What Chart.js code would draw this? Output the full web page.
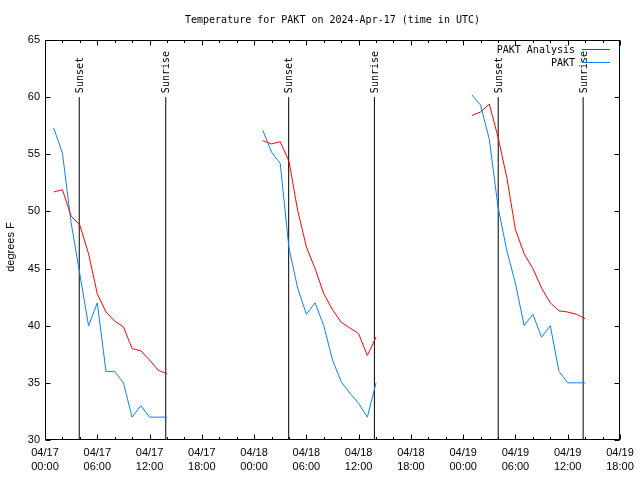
<!DOCTYPE html>
<html><head><meta charset="utf-8">
<script src="https://cdn.jsdelivr.net/npm/chart.js@4"></script>
<style>html,body{margin:0;padding:0;background:#fff}</style>
</head><body>
<canvas id="c" width="640" height="480"></canvas>
<script>
// hours since 2024-04-17 00:00 UTC; null values break the lines between days
const hours = [1,2,3,4,5,6,7,8,9,10,11,12,13,14,15,
  25,26,27,28,29,30,31,32,33,34,35,36,37,38,39,
  49,50,51,52,53,54,55,56,57,58,59,60,61,62];
const analysisTemps = [51.7,51.9,49.6,48.8,46.3,42.8,41.2,40.4,39.9,38.0,37.8,37.0,36.1,35.8,null,
  56.2,55.9,56.1,54.4,50.1,46.9,45.0,42.8,41.4,40.3,39.8,39.3,37.4,39.0,null,
  58.4,58.7,59.4,56.5,53.0,48.4,46.3,45.0,43.3,42.0,41.3,41.2,41.0,40.6];
const observedTemps = [57.3,55.1,49.0,44.5,40.0,42.0,36.0,36.0,35.0,32.0,33.0,32.0,32.0,32.0,null,
  57.1,55.2,54.2,46.8,43.3,41.0,42.0,40.0,37.0,35.1,34.1,33.2,32.0,35.0,null,
  60.2,59.3,56.3,50.4,46.6,43.7,40.0,41.0,39.0,40.0,36.0,35.0,35.0,35.0];
const seriesNames = ['PAKT Analysis','PAKT'];
const sunsetHours = [3.93, 27.97, 52.02];
const sunriseHours = [13.86, 37.81, 61.77];
const sunLineRange = [30, 60];
const xTickDates = ['04/17','04/17','04/17','04/17','04/18','04/18','04/18','04/18','04/19','04/19','04/19','04/19'];
const xTickTimes = ['00:00','06:00','12:00','18:00','00:00','06:00','12:00','18:00','00:00','06:00','12:00','18:00'];
const yTicks = [30,35,40,45,50,55,60,65];
const titleText = 'Temperature for PAKT on 2024-Apr-17 (time in UTC)';
const yLabel = 'degrees F';

const pts = (vals) => hours.map((h,i) => ({x:h, y:vals[i]}));
const vline = (t) => sunLineRange.map(v => ({x:t, y:v}));

const sunMarks = [];
sunsetHours.forEach(t => sunMarks.push({t, label:'Sunset'}));
sunriseHours.forEach(t => sunMarks.push({t, label:'Sunrise'}));

const datasets = [
  {label:seriesNames[0], data:pts(analysisTemps), borderColor:'#ff0000', borderWidth:1, pointRadius:0, spanGaps:false, tension:0},
  {label:seriesNames[1], data:pts(observedTemps), borderColor:'#0a80ff', borderWidth:1, pointRadius:0, spanGaps:false, tension:0}
];
sunMarks.forEach(m => datasets.push({label:m.label, data:vline(m.t), borderColor:'#000', borderWidth:1, pointRadius:0}));

const decor = {
  id:'decor',
  afterDatasetsDraw(chart){
    const ctx = chart.ctx, a = chart.chartArea, xs = chart.scales.x, ys = chart.scales.y;
    ctx.save();
    ctx.strokeStyle = '#000'; ctx.lineWidth = 1;
    const L = Math.round(a.left)+0.5, R = Math.round(a.right)-0.5, T = Math.round(a.top)+0.5, B = Math.round(a.bottom)-0.5;
    ctx.strokeRect(L, T, R-L, B-T);
    ctx.beginPath();
    yTicks.forEach(v => {
      const y = Math.round(ys.getPixelForValue(v))+0.5;
      ctx.moveTo(L, y); ctx.lineTo(L+5, y);
      ctx.moveTo(R, y); ctx.lineTo(R-5, y);
    });
    for (let h = xs.min; h <= xs.max; h += 2) {
      const x = Math.round(xs.getPixelForValue(h))+0.5;
      const len = (h % 6 === 0) ? 5 : 2.5;
      ctx.moveTo(x, B); ctx.lineTo(x, B-len);
      ctx.moveTo(x, T); ctx.lineTo(x, T+len);
    }
    ctx.stroke();
    // sun labels
    ctx.fillStyle = '#000';
    ctx.font = '10px "DejaVu Sans Mono"';
    ctx.textAlign = 'left'; ctx.textBaseline = 'middle';
    const yTop = ys.getPixelForValue(sunLineRange[1]);
    sunMarks.forEach(m => {
      const x = xs.getPixelForValue(m.t);
      ctx.save(); ctx.translate(x+1, yTop-4); ctx.rotate(-Math.PI/2);
      ctx.fillText(m.label, 0, 0); ctx.restore();
    });
    // legend
    ctx.textAlign = 'right';
    const legY = [50, 63];
    [0,1].forEach(i => {
      ctx.fillStyle = '#000';
      ctx.fillText(chart.data.datasets[i].label, 575, legY[i]);
      ctx.strokeStyle = chart.data.datasets[i].borderColor;
      ctx.beginPath(); ctx.moveTo(582, legY[i]-0.5); ctx.lineTo(610, legY[i]-0.5); ctx.stroke();
    });
    // y axis title
    ctx.fillStyle = '#000';
    ctx.font = '11px "Liberation Sans"';
    ctx.textAlign = 'center';
    ctx.save(); ctx.translate(11, 247); ctx.rotate(-Math.PI/2);
    ctx.fillText(yLabel, 0, 0); ctx.restore();
    ctx.restore();
  }
};

new Chart(document.getElementById('c'), {
  type:'line',
  data:{datasets},
  options:{
    responsive:false, animation:false,
    layout:{padding:{top:0,right:20,bottom:0,left:0}},
    plugins:{
      legend:{display:false}, tooltip:{enabled:false},
      title:{display:true, fullSize:false, text:titleText, color:'#000', font:{family:'"DejaVu Sans Mono"', size:10, weight:'normal'}, padding:{top:14,bottom:14}}
    },
    scales:{
      x:{type:'linear', min:0, max:66,
        grid:{display:false, drawTicks:false}, border:{display:false},
        afterFit(s){ s.height = 40; },
        ticks:{stepSize:6, autoSkip:false, maxRotation:0, padding:6, color:'#000',
          font:{family:'"Liberation Sans"', size:11, lineHeight:1.27},
          callback:(v) => { const i = Math.round(v/6); return [xTickDates[i], xTickTimes[i]]; }}
      },
      y:{type:'linear', min:30, max:65,
        grid:{display:false, drawTicks:false}, border:{display:false},
        afterFit(s){ s.width = 45; },
        afterBuildTicks(s){ s.ticks = yTicks.map(v => ({value:v})); },
        ticks:{padding:5, color:'#000', font:{family:'"Liberation Sans"', size:11}}
      }
    }
  },
  plugins:[decor]
});
</script>
</body></html>
